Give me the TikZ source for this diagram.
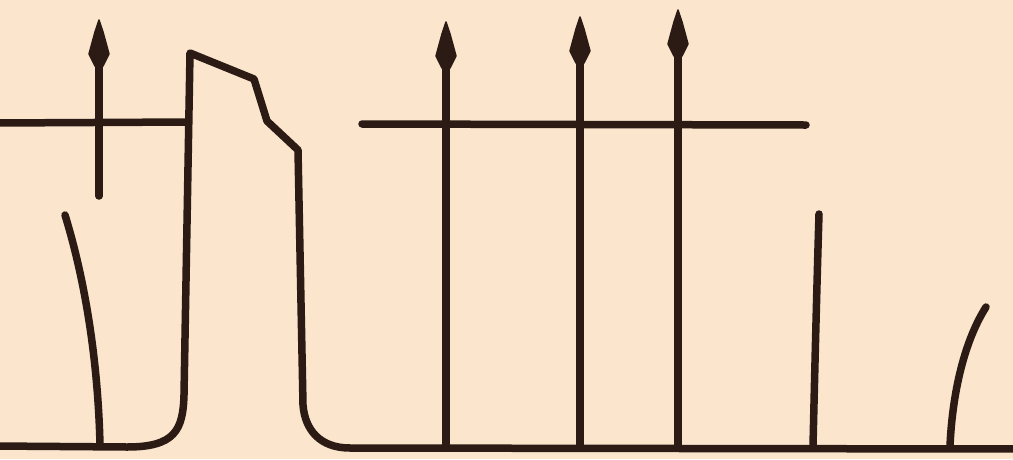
\documentclass[tikz,border=0pt]{standalone}
\usetikzlibrary{calc}
\definecolor{paper}{HTML}{FBE5CD}
\definecolor{ink}{HTML}{2B1B14}
\tikzset{
  inkline/.style={draw=ink, line width=7.5pt, line cap=round, line join=round},
  spearhead/.style={fill=ink, draw=ink, line width=1.5pt, line join=round}
}
\newcommand{\spearat}[2]{%
  \path[spearhead] (#1,#2) -- (#1+4,#2+12) -- (#1+10,#2+34) -- (#1+4,#2+46) -- (#1-4,#2+46) -- (#1-10,#2+34) -- (#1-4,#2+12) -- cycle;}
\begin{document}
\begin{tikzpicture}[x=1pt,y=-1pt]
\fill[paper] (0,0) rectangle (1013,459);
\useasboundingbox (0,0) rectangle (1013,459);
% left horizontal bar
\draw[inkline, line cap=butt] (-5,123) -- (190,122);
% left arrow
\draw[inkline] (99,196) -- (99,40);
\spearat{99}{20}
% left slanted stroke
\draw[inkline] (65,215) .. controls (85,280) and (98,360) .. (100,445);
% step outline with bottom line
\draw[inkline, line cap=butt] (-5,446) -- (127,447) .. controls (175,447) and (183,430) .. (184,395)
  -- (190,53) -- (254,79) -- (267,121) -- (298,150) -- (303,405)
  .. controls (305,430) and (320,448) .. (350,448) -- (1020,449);
% right horizontal bar
\draw[inkline] (362,124) -- (806,125);
% three arrows
\draw[inkline] (446,447) -- (446,45);
\spearat{446}{22}
\draw[inkline] (580,447) -- (580,40);
\spearat{580}{17}
\draw[inkline] (678,447) -- (678,35);
\spearat{678}{10}
% right vertical stroke
\draw[inkline] (813,446) .. controls (815,360) and (817,280) .. (819,214);
% right curved stroke
\draw[inkline] (950,446) .. controls (952,400) and (962,345) .. (986,307);
\end{tikzpicture}
\end{document}
